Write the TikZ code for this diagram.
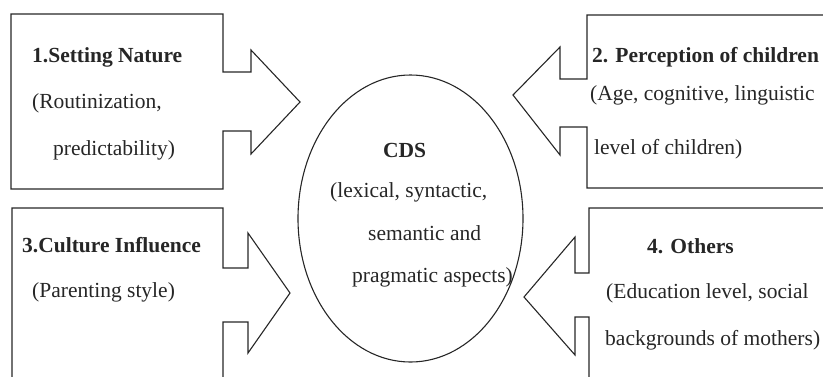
\documentclass[tikz,border=0pt]{standalone}
\usepackage{fontspec}
\setmainfont{Liberation Serif}
\usetikzlibrary{shapes.geometric}
\begin{document}
\begin{tikzpicture}[x=1pt,y=-1pt,
  blockarrow/.style={draw=black!85, line width=1.1pt, line join=miter},
  lbl/.style={anchor=base west, inner sep=0pt, font=\fontsize{21.5}{26}\selectfont, text=black!85},
  hdr/.style={lbl, font=\fontsize{21.5}{26}\selectfont\bfseries}]
\useasboundingbox (0,0) rectangle (823,376);
\begin{scope}
\clip (0,0) rectangle (823,376);
% box 1
\draw[blockarrow] (11,14) -- (223,14) -- (223,72) -- (251,72) -- (251,50) -- (300,102)
  -- (251,154) -- (251,131) -- (223,131) -- (223,189) -- (11,189) -- cycle;
% box 3
\draw[blockarrow] (12,380) -- (12,208) -- (223,208) -- (223,268) -- (248,268) -- (248,233)
  -- (290,293) -- (248,353) -- (248,322) -- (223,322) -- (223,380);
% box 2
\draw[blockarrow] (830,15) -- (587,15) -- (587,79) -- (560,79) -- (560,47) -- (513,95)
  -- (560,155) -- (560,127) -- (587,127) -- (587,188) -- (830,188);
% box 4
\draw[blockarrow] (830,208) -- (589,208) -- (589,273) -- (575,273) -- (575,237) -- (524,297)
  -- (575,355) -- (575,317) -- (589,317) -- (589,380);
\end{scope}
% central ellipse
\node[ellipse, draw=black!85, line width=1.1pt, minimum width=225pt, minimum height=287pt, inner sep=0pt]
  (cds) at (410.5,218.5) {};
% texts box 1
\node[hdr] (t1a) at (32,62) {1.Setting Nature};
\node[lbl] (t1b) at (32,108) {(Routinization,};
\node[lbl] (t1c) at (53,155) {predictability)};
% texts box 3
\node[hdr] (t3a) at (22,252) {3.Culture Influence};
\node[lbl] (t3b) at (32,297) {(Parenting style)};
% texts box 2
\node[hdr] (t2a) at (592,62) {2. Perception of children};
\node[lbl] (t2b) at (590,100) {(Age, cognitive, linguistic};
\node[lbl] (t2c) at (594,154) {level of children)};
% texts box 4
\node[hdr] (t4a) at (647,253) {4. Others};
\node[lbl] (t4b) at (606,298) {(Education level, social};
\node[lbl] (t4c) at (605,345) {backgrounds of mothers)};
% ellipse texts
\node[hdr] (c1) at (383,157) {CDS};
\node[lbl] (c2) at (330,197) {(lexical, syntactic,};
\node[lbl] (c3) at (368,240) {semantic and};
\node[lbl] (c4) at (352,282) {pragmatic aspects)};
\end{tikzpicture}
\end{document}
